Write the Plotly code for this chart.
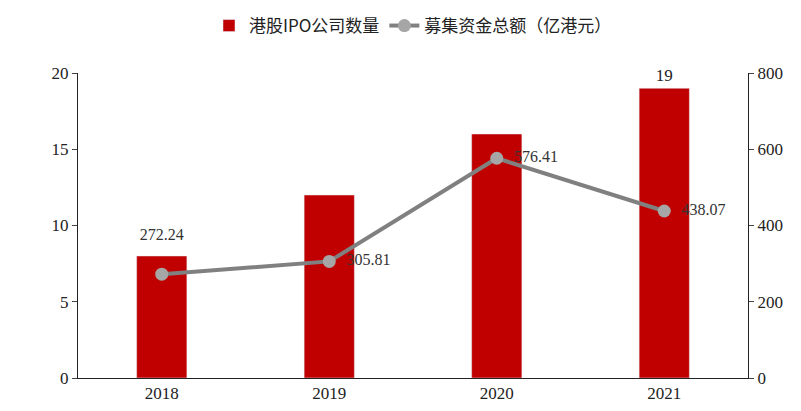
import plotly.graph_objects as go

years = ["2018", "2019", "2020", "2021"]
ipo_count = [8, 12, 16, 19]
funds = [272.24, 305.81, 576.41, 438.07]
count_labels = ["", "", "", "19"]
fund_labels = ["272.24<br> ", "  305.81", "  576.41", "  438.07"]

fig = go.Figure()
fig.add_trace(go.Bar(
    x=years, y=ipo_count, name="港股IPO公司数量",
    marker_color="#c00000", width=0.3,
    text=count_labels, textposition="outside", cliponaxis=False,
    textfont=dict(size=17, color="#222"),
))
fig.add_trace(go.Scatter(
    x=years, y=funds, name="募集资金总额（亿港元）", yaxis="y2",
    mode="lines+markers+text",
    line=dict(color="#808080", width=4), marker=dict(color="#a6a6a6", size=13),
    text=fund_labels,
    textposition=["top center", "middle right", "middle right", "middle right"],
    textfont=dict(size=16, color="#333"),
))

fig.update_layout(
    width=801, height=411,
    margin=dict(l=70, r=61, t=65, b=41, autoexpand=False),
    plot_bgcolor="white", paper_bgcolor="white",
    font=dict(family="Liberation Serif", size=17, color="#222"),
    showlegend=True,
    legend=dict(orientation="h", x=0.5, xanchor="center",
                yref="container", y=1.0, yanchor="top",
                font=dict(family="Noto Sans CJK SC", size=17)),
    xaxis=dict(showline=True, linecolor="#222", ticks="", showgrid=False),
    yaxis=dict(range=[0, 20], dtick=5, showline=True, linecolor="#222",
               ticks="outside", ticklen=5, showgrid=False),
    yaxis2=dict(range=[0, 800], dtick=200, overlaying="y", side="right",
                showline=True, linecolor="#222", ticks="outside", ticklen=5,
                showgrid=False),
)

fig.write_html("out.html")
